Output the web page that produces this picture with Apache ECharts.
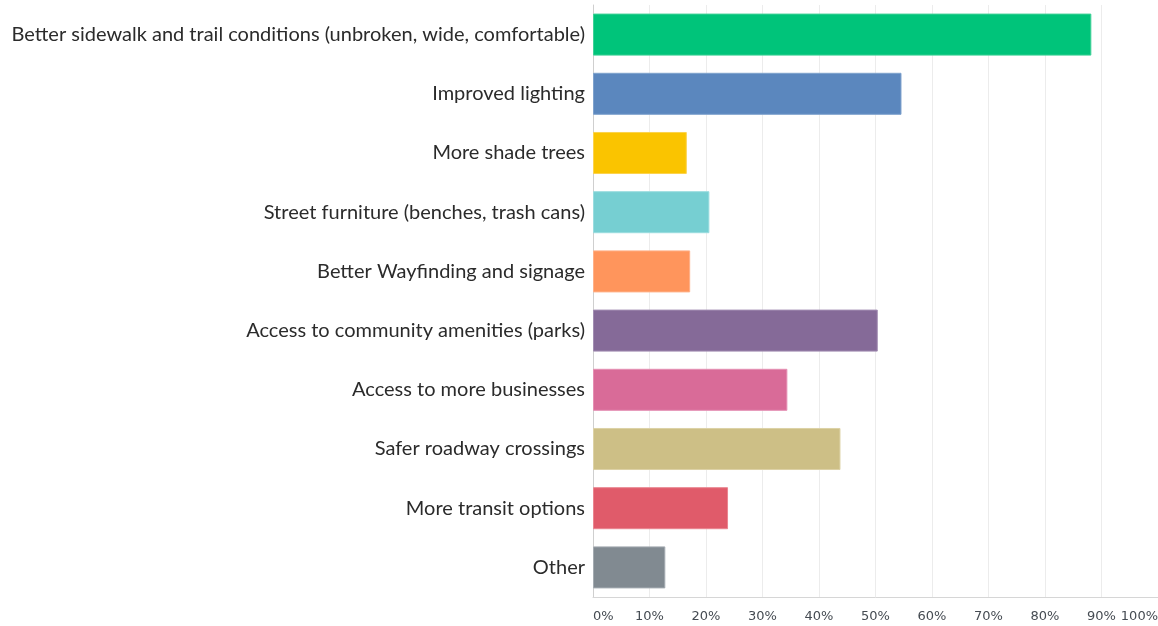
<!DOCTYPE html>
<html>
<head>
<meta charset="utf-8">
<script src="https://cdn.jsdelivr.net/npm/echarts@6/dist/echarts.min.js"></script>
<style>
html,body{margin:0;padding:0;background:#fff;}
#chart{width:1158px;height:626px;}
</style>
</head>
<body>
<div id="chart"></div>
<script>
var categories = [
  "Better sidewalk and trail conditions (unbroken, wide, comfortable)",
  "Improved lighting",
  "More shade trees",
  "Street furniture (benches, trash cans)",
  "Better Wayfinding and signage",
  "Access to community amenities (parks)",
  "Access to more businesses",
  "Safer roadway crossings",
  "More transit options",
  "Other"
];
var values = [88.2, 54.6, 16.6, 20.6, 17.2, 50.4, 34.4, 43.8, 23.9, 12.8];
var colors = ["#00C47A", "#5B87BE", "#FAC400", "#76CFD2", "#FF955C", "#856A98", "#D96B98", "#CDBF86", "#E05B6A", "#818A91"];
var borders = ["#3fd197", "#7fa2cd", "#fcd34d", "#9adcdf", "#ffb088", "#a28db2", "#e58fb3", "#ddd2a6", "#ea8590", "#a4abb1"];
var xTicks = [0, 10, 20, 30, 40, 50, 60, 70, 80, 90, 100];

var chart = echarts.init(document.getElementById('chart'));
chart.setOption({
  animation: false,
  grid: { left: 593, right: 0, top: 5, bottom: 29, containLabel: false, outerBoundsMode: 'none' },
  xAxis: {
    type: 'value', min: xTicks[0], max: xTicks[xTicks.length - 1], interval: 10,
    axisLine: { show: true, lineStyle: { color: '#d6d6d6', width: 1 } },
    axisTick: { show: false },
    splitLine: { show: true, lineStyle: { color: '#ececec', width: 1 } },
    axisLabel: {
      formatter: '{value}%', color: '#454b52', fontSize: 13, fontFamily: 'DejaVu Sans',
      margin: 13, alignMinLabel: 'left', alignMaxLabel: 'right', showMinLabel: true, showMaxLabel: true
    }
  },
  yAxis: {
    type: 'category', data: categories, inverse: true,
    axisLine: { show: true, lineStyle: { color: '#cfcfcf', width: 1 } },
    axisTick: { show: false },
    axisLabel: { color: '#2b2b2b', fontSize: 20, fontFamily: 'Lato', margin: 8 }
  },
  series: [{
    type: 'bar',
    barCategoryGap: '29%',
    data: values.map(function (v, i) {
      return { value: v, itemStyle: { color: colors[i], borderColor: borders[i], borderWidth: 1 } };
    })
  }]
});
</script>
</body>
</html>
